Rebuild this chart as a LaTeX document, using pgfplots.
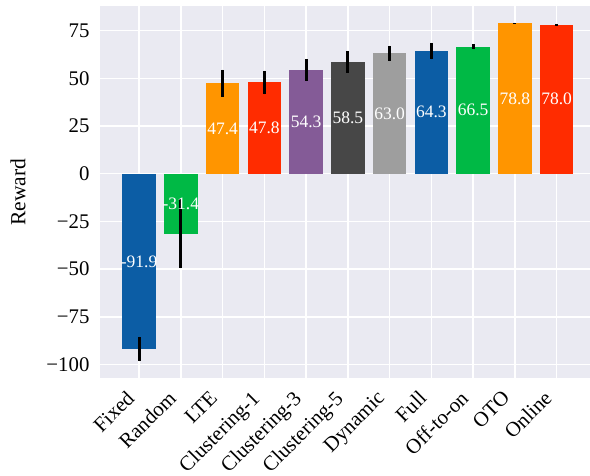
\documentclass[border=0pt]{standalone}
\usepackage{fontspec}
\setmainfont{Liberation Serif}
\usepackage{pgfplots}
\pgfplotsset{compat=1.18}
\definecolor{bgc}{HTML}{EAEAF2}
\definecolor{c1}{HTML}{0C5DA5}
\definecolor{c2}{HTML}{00B945}
\definecolor{c3}{HTML}{FF9500}
\definecolor{c4}{HTML}{FF2C00}
\definecolor{c5}{HTML}{845B97}
\definecolor{c6}{HTML}{474747}
\definecolor{c7}{HTML}{9E9E9E}
\pgfplotsset{
  mybar/.style={ybar, bar width=0.8, bar shift=0pt, fill=#1, draw=none,
    error bars/.cd, y dir=both, y explicit,
    error bar style={line width=2.1pt, black}, error mark=none},
}
\begin{document}
\begin{tikzpicture}
\begin{axis}[
  scale only axis,
  width=353.3pt, height=268.6pt,
  xmin=-0.94, xmax=10.8,
  ymin=-107.2, ymax=88,
  axis background/.style={fill=bgc},
  axis line style={draw=none},
  grid=major,
  major grid style={white, line width=1pt},
  tick style={draw=none},
  xtick={0,...,10},
  xticklabels={Fixed,Random,LTE,Clustering-1,Clustering-3,Clustering-5,Dynamic,Full,Off-to-on,OTO,Online},
  xticklabel style={xshift=-10pt, yshift=-6.4pt, rotate=45, anchor=north east, font=\fontsize{15}{17}\selectfont, inner sep=1pt},
  ytick={-100,-75,-50,-25,0,25,50,75},
  yticklabels={−100,−75,−50,−25,0,25,50,75},
  yticklabel style={font=\fontsize{15}{17}\selectfont, xshift=-4pt},
  clip=false,
]
\addplot[mybar=c1] coordinates {(0,-91.9) +- (0,6.4)};
\addplot[mybar=c2] coordinates {(1,-31.4) +- (0,18.2)};
\addplot[mybar=c3] coordinates {(2,47.4) +- (0,7.1)};
\addplot[mybar=c4] coordinates {(3,47.8) +- (0,6.2)};
\addplot[mybar=c5] coordinates {(4,54.3) +- (0,5.7)};
\addplot[mybar=c6] coordinates {(5,58.5) +- (0,5.7)};
\addplot[mybar=c7] coordinates {(6,63.0) +- (0,4.1)};
\addplot[mybar=c1] coordinates {(7,64.3) +- (0,4.4)};
\addplot[mybar=c2] coordinates {(8,66.5) +- (0,1.3)};
\addplot[mybar=c3] coordinates {(9,78.8) +- (0,0.3)};
\addplot[mybar=c4] coordinates {(10,78.0) +- (0,0.5)};
\addplot[draw=none, mark=none, point meta=explicit symbolic,
  nodes near coords,
  every node near coord/.append style={anchor=center, text=white, font=\fontsize{12.6}{14}\selectfont, inner sep=0pt}]
  table[x=x, y expr=\thisrow{v}/2, meta=lab] {
x v lab
0 -91.9 -91.9
1 -31.4 -31.4
2 47.4 47.4
3 47.8 47.8
4 54.3 54.3
5 58.5 58.5
6 63.0 63.0
7 64.3 64.3
8 66.5 66.5
9 78.8 78.8
10 78.0 78.0
};
\end{axis}
\node[rotate=90, font=\fontsize{15.5}{17}\selectfont, inner sep=0pt] at ([xshift=-59pt]current axis.west) {Reward};
\pgfresetboundingbox
\path[use as bounding box] ([shift={(-72pt,-69.8pt)}]current axis.south west) rectangle ([shift={(0pt,4.1pt)}]current axis.north east);
\end{tikzpicture}
\end{document}
